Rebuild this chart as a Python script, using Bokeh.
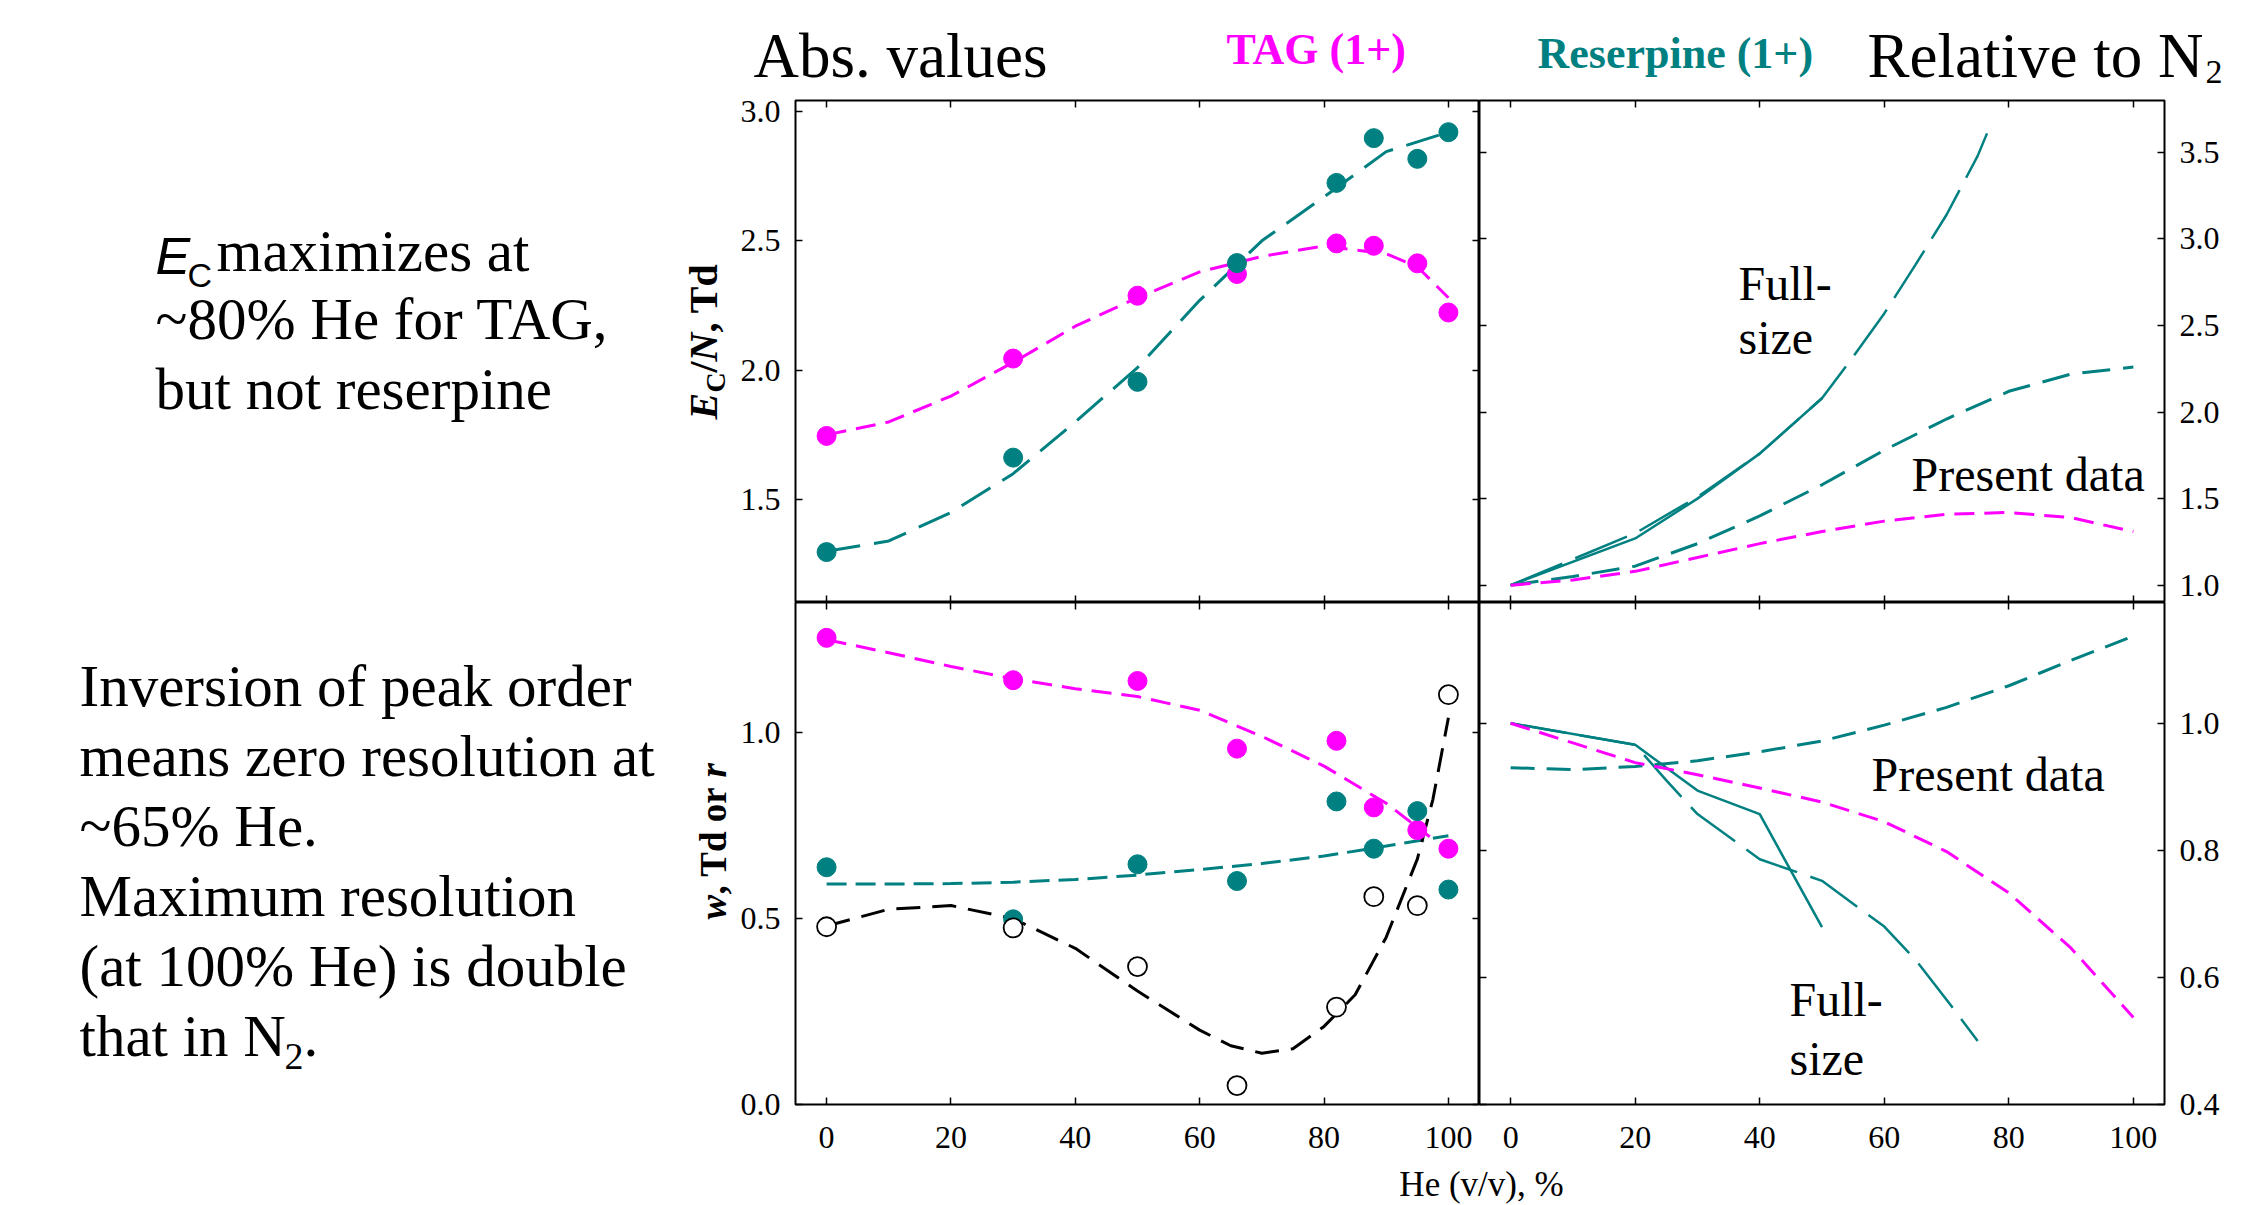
import math
from bokeh.plotting import figure
from bokeh.models import Range1d, Label, LinearAxis, FixedTicker, PrintfTickFormatter
from bokeh.layouts import column, row
from bokeh.embed import file_html
from bokeh.resources import INLINE

MAG = "#FF00FF"
TEAL = "#008080"
SERIF = "Liberation Serif"
SANS = "Liberation Sans"

# ---------------- data ----------------
he_pts = [0, 30, 50, 66, 82, 88, 95, 100]
# Ec/N (Td)
tag_ec = [1.746, 2.045, 2.288, 2.372, 2.490, 2.481, 2.413, 2.223]
res_ec = [1.297, 1.662, 1.955, 2.414, 2.724, 2.897, 2.817, 2.920]
tag_ec_fit_x = [0, 10, 20, 30, 40, 50, 60, 70, 80, 90, 95, 100]
tag_ec_fit = [1.75, 1.80, 1.90, 2.03, 2.17, 2.28, 2.38, 2.44, 2.48, 2.45, 2.40, 2.28]
fit_x = [0, 10, 20, 30, 40, 50, 60, 70, 80, 90, 100]
res_ec_fit = [1.30, 1.34, 1.45, 1.60, 1.80, 2.01, 2.27, 2.50, 2.67, 2.845, 2.92]
# w (Td) and r
tag_w = [1.255, 1.141, 1.139, 0.957, 0.978, 0.799, 0.738, 0.688]
res_w = [0.638, 0.498, 0.646, 0.601, 0.815, 0.688, 0.789, 0.578]
res_r = [0.478, 0.475, 0.371, 0.051, 0.262, 0.559, 0.535, 1.102]
tag_w_fit_x = [0, 10, 20, 30, 40, 50, 60, 70, 80, 90, 97]
tag_w_fit = [1.25, 1.215, 1.178, 1.145, 1.118, 1.097, 1.06, 0.99, 0.91, 0.81, 0.72]
res_w_fit = [0.593, 0.593, 0.594, 0.598, 0.605, 0.617, 0.632, 0.648, 0.668, 0.695, 0.723]
r_fit_x = [0, 10, 20, 30, 40, 50, 60, 65, 70, 75, 80, 85, 90, 95, 97.5, 100]
r_fit = [0.48, 0.525, 0.535, 0.50, 0.42, 0.305, 0.20, 0.158, 0.138, 0.15, 0.21, 0.295, 0.45, 0.66, 0.82, 1.04]
# relative Ec/N
rel_ec_full_dash_x = [0, 10, 20, 30, 40, 50, 55, 60, 65, 70, 75, 76.5]
rel_ec_full_dash = [1.0, 1.15, 1.30, 1.51, 1.76, 2.08, 2.32, 2.57, 2.85, 3.14, 3.48, 3.61]
rel_ec_full_solid_x = [0, 20, 30, 40, 50]
rel_ec_full_solid = [1.0, 1.27, 1.50, 1.76, 2.08]
rel_ec_res = [1.0, 1.05, 1.11, 1.24, 1.40, 1.58, 1.78, 1.96, 2.12, 2.22, 2.26]
rel_ec_tag = [1.0, 1.03, 1.08, 1.16, 1.24, 1.31, 1.37, 1.41, 1.42, 1.39, 1.31]
# relative w
rel_w_full_solid_x = [0, 20, 30, 40, 50]
rel_w_full_solid = [1.0, 0.966, 0.894, 0.857, 0.679]
rel_w_full_dash_x = [0, 20, 25, 30, 40, 50, 60, 65, 70, 75]
rel_w_full_dash = [1.0, 0.966, 0.91, 0.857, 0.786, 0.752, 0.68, 0.628, 0.565, 0.50]
rel_w_res = [0.930, 0.927, 0.932, 0.941, 0.955, 0.972, 0.997, 1.025, 1.059, 1.099, 1.137]
rel_w_tag = [1.0, 0.969, 0.938, 0.919, 0.898, 0.876, 0.845, 0.798, 0.733, 0.646, 0.537]

x_ticks = [0, 20, 40, 60, 80, 100]
tl_yticks = [1.5, 2.0, 2.5, 3.0]
bl_yticks = [0.0, 0.5, 1.0]
tr_yticks = [1.0, 1.5, 2.0, 2.5, 3.0, 3.5]
br_yticks = [0.4, 0.6, 0.8, 1.0]

XR = (-5, 105)
TL_YR = (1.102, 3.0425)
BL_YR = (0.0, 1.35)
TR_YR = (0.9, 3.8)
BR_YR = (0.4, 1.19)

MID = 0.34  # distance of the text middle above the alphabetic baseline, in em


class Geom:
    """page pixel -> data conversion for a panel frame"""
    def __init__(s, L, T, W, H, xr, yr):
        s.L, s.T, s.W, s.H, s.xr, s.yr = L, T, W, H, xr, yr

    def x(s, px):
        return s.xr[0] + (px - s.L) / s.W * (s.xr[1] - s.xr[0])

    def y(s, py):
        return s.yr[1] - (py - s.T) / s.H * (s.yr[1] - s.yr[0])


class Page:
    """identity mapping (text canvases use page pixels as data)"""
    def x(s, px):
        return px

    def y(s, py):
        return py


PAGE = Page()


def no_grid(p):
    p.xgrid.grid_line_color = None
    p.ygrid.grid_line_color = None


def make_fig(width, height, yr, left, right, top, bottom):
    p = figure(width=width, height=height, x_range=Range1d(*XR), y_range=Range1d(*yr),
               output_backend="svg", toolbar_location=None,
               x_axis_location=None, y_axis_location=None,
               min_border_left=left, min_border_right=right,
               min_border_top=top, min_border_bottom=bottom)
    no_grid(p)
    p.outline_line_color = "black"
    p.outline_line_width = 2
    p.background_fill_color = "white"
    p.border_fill_color = "white"
    return p


def add_axis(p, side, ticks, labels, fmt=None, standoff=15):
    ax = LinearAxis(ticker=FixedTicker(ticks=ticks))
    ax.major_tick_in = 7
    ax.major_tick_out = 0
    ax.major_tick_line_width = 1.5
    ax.major_tick_line_color = "black"
    ax.minor_tick_line_color = None
    ax.axis_line_color = None
    if fmt:
        ax.formatter = PrintfTickFormatter(format=fmt)
    if labels:
        ax.major_label_text_font = SERIF
        ax.major_label_text_font_size = "32px"
        ax.major_label_text_color = "black"
        ax.major_label_standoff = standoff
    else:
        ax.major_label_text_font_size = "1px"
        ax.major_label_text_color = None
        ax.major_label_standoff = 0
    p.add_layout(ax, side)


def text_fig(x0, x1, y0, y1, top=0, bottom=0):
    """Blank canvas; its frame (y0..y1) uses page pixels as data coordinates."""
    p = figure(width=x1 - x0, height=y1 - y0 + top + bottom, x_range=Range1d(x0, x1),
               y_range=Range1d(y1, y0), output_backend="svg", toolbar_location=None,
               x_axis_location=None, y_axis_location=None, min_border=0,
               min_border_top=top, min_border_bottom=bottom)
    no_grid(p)
    p.outline_line_color = None
    p.background_fill_color = "white"
    p.border_fill_color = "white"
    return p


def lab(p, g, px, py, text, size, font=SERIF, style="normal", color="black", rotated=False,
        align="left"):
    """Place text so that its alphabetic baseline sits at page (px, py)."""
    off = MID * size
    if rotated:
        ax, ay, ang = px - off, py, math.pi / 2
    else:
        ax, ay, ang = px, py - off, 0.0
    p.add_layout(Label(x=g.x(ax), y=g.y(ay), text=text, text_font=font,
                       text_font_size=f"{size}px", text_font_style=style, text_color=color,
                       angle=ang, text_align=align, text_baseline="middle"))


W_LEFT, W_MID, W_RIGHT = 735, 744, 767
TOTAL_W = W_LEFT + W_MID + W_RIGHT
H_TITLE = 91          # page 0..91
TOP_PAD = 9           # panels' frames start at page 100
H_TOP = TOP_PAD + 502  # page 91..602
BOT_PAD = 61
H_BOT = 502 + BOT_PAD  # page 602..1165
H_XL = 39             # page 1165..1204

gTR = Geom(1479, 100, 685, 502, XR, TR_YR)
gBR = Geom(1479, 602, 685, 502, XR, BR_YR)

# ---------------- title strip ----------------
ttl = text_fig(0, TOTAL_W, 0, H_TITLE)
lab(ttl, PAGE, 753, 77, "Abs. values", 63)
lab(ttl, PAGE, 1226, 64, "TAG (1+)", 44, style="bold", color=MAG)
lab(ttl, PAGE, 1537, 68, "Reserpine (1+)", 44, style="bold", color=TEAL)
lab(ttl, PAGE, 1867, 77, "Relative to N", 63)
lab(ttl, PAGE, 2205, 83.5, "2", 34)

# ---------------- left text (top) ----------------
txt_t = text_fig(0, W_LEFT, 100, 602, top=TOP_PAD)
lab(txt_t, PAGE, 155, 273, "E", 52, font=SANS, style="italic")
lab(txt_t, PAGE, 187, 286, "C", 34, font=SANS)
lab(txt_t, PAGE, 216, 271, "maximizes at", 59)
lab(txt_t, PAGE, 155, 339, "~80% He for TAG,", 59)
lab(txt_t, PAGE, 155, 409, "but not reserpine", 59)
# y axis label  E_C/N, Td  (reads upward)
lab(txt_t, PAGE, 717, 419, "E", 40, style="bold italic", rotated=True)
lab(txt_t, PAGE, 725, 392, "C", 28, style="bold", rotated=True)
lab(txt_t, PAGE, 717, 372, "/", 40, style="bold", rotated=True)
lab(txt_t, PAGE, 717, 361, "N", 40, style="bold italic", rotated=True)
lab(txt_t, PAGE, 717, 332, ", Td", 40, style="bold", rotated=True)

# ---------------- top-left: Ec/N absolute ----------------
tl = make_fig(W_MID, H_TOP, TL_YR, 60, 0, TOP_PAD, 0)
add_axis(tl, "left", tl_yticks, True, "%.1f")
add_axis(tl, "right", tl_yticks, False)
add_axis(tl, "above", x_ticks, False)
add_axis(tl, "below", x_ticks, False)
tl.line(tag_ec_fit_x, tag_ec_fit, line_color=MAG, line_width=3, line_dash="20 10")
tl.line(fit_x, res_ec_fit, line_color=TEAL, line_width=3, line_dash="34 14")
tl.scatter(he_pts, tag_ec, size=19, fill_color=MAG, line_color=MAG)
tl.scatter(he_pts, res_ec, size=19, fill_color=TEAL, line_color=TEAL)

# ---------------- top-right: relative Ec/N ----------------
tr = make_fig(W_RIGHT, H_TOP, TR_YR, 0, W_RIGHT - 685, TOP_PAD, 0)
add_axis(tr, "right", tr_yticks, True, "%.1f")
add_axis(tr, "left", tr_yticks, False)
add_axis(tr, "above", x_ticks, False)
add_axis(tr, "below", x_ticks, False)
tr.line(rel_ec_full_solid_x, rel_ec_full_solid, line_color=TEAL, line_width=2.5)
tr.line(rel_ec_full_dash_x, rel_ec_full_dash, line_color=TEAL, line_width=2.5, line_dash="56 14")
tr.line(fit_x, rel_ec_res, line_color=TEAL, line_width=3, line_dash="28 13")
tr.line(fit_x, rel_ec_tag, line_color=MAG, line_width=3, line_dash="20 10")
lab(tr, gTR, 1738, 299, "Full-", 48)
lab(tr, gTR, 1738, 353, "size", 48)
lab(tr, gTR, 1911, 490, "Present data", 48)

# ---------------- left text (bottom) ----------------
txt_b = text_fig(0, W_LEFT, 602, 1104, bottom=BOT_PAD)
blk2 = ["Inversion of peak order", "means zero resolution at", "~65% He.",
        "Maximum resolution", "(at 100% He) is double", "that in N"]
for i, t in enumerate(blk2):
    lab(txt_b, PAGE, 79, 706 + 70 * i, t, 59)
lab(txt_b, PAGE, 284, 1069, "2", 38)
lab(txt_b, PAGE, 303, 1056, ".", 59)
# y axis label  w, Td or r  (reads upward)
lab(txt_b, PAGE, 726, 919, "w", 37, style="bold italic", rotated=True)
lab(txt_b, PAGE, 726, 894, ", Td or ", 37, style="bold", rotated=True)
lab(txt_b, PAGE, 726, 777, "r", 37, style="bold italic", rotated=True)

# ---------------- bottom-left: w and r absolute ----------------
bl = make_fig(W_MID, H_BOT, BL_YR, 60, 0, 0, BOT_PAD)
add_axis(bl, "left", bl_yticks, True, "%.1f")
add_axis(bl, "right", bl_yticks, False)
add_axis(bl, "above", x_ticks, False)
add_axis(bl, "below", x_ticks, True, standoff=22)
bl.line(tag_w_fit_x, tag_w_fit, line_color=MAG, line_width=3, line_dash="20 10")
bl.line(fit_x, res_w_fit, line_color=TEAL, line_width=3, line_dash="20 9")
bl.line(r_fit_x, r_fit, line_color="black", line_width=3, line_dash="24 12")
bl.scatter(he_pts, tag_w, size=19, fill_color=MAG, line_color=MAG)
bl.scatter(he_pts, res_w, size=19, fill_color=TEAL, line_color=TEAL)
bl.scatter(he_pts, res_r, size=19, fill_color="white", line_color="black", line_width=1.8)

# ---------------- bottom-right: relative w ----------------
br = make_fig(W_RIGHT, H_BOT, BR_YR, 0, W_RIGHT - 685, 0, BOT_PAD)
add_axis(br, "right", br_yticks, True, "%.1f")
add_axis(br, "left", br_yticks, False)
add_axis(br, "above", x_ticks, False)
add_axis(br, "below", x_ticks, True, standoff=22)
br.line(rel_w_full_solid_x, rel_w_full_solid, line_color=TEAL, line_width=2.5)
br.line(rel_w_full_dash_x, rel_w_full_dash, line_color=TEAL, line_width=2.5, line_dash="56 14")
br.line(fit_x, rel_w_res, line_color=TEAL, line_width=3, line_dash="24 12")
br.line(fit_x, rel_w_tag, line_color=MAG, line_width=3, line_dash="20 10")
lab(br, gBR, 1871, 790, "Present data", 48)
lab(br, gBR, 1789, 1015, "Full-", 48)
lab(br, gBR, 1789, 1074, "size", 48)

# ---------------- x-axis title strip ----------------
y0 = H_TITLE + H_TOP + H_BOT
xl = text_fig(0, TOTAL_W, y0, y0 + H_XL)
lab(xl, PAGE, 1481, 1196.3, "He (v/v), %", 35, align="center")

layout = column(ttl, row(txt_t, tl, tr), row(txt_b, bl, br), xl)
open("out.html", "w").write(file_html(layout, INLINE))
